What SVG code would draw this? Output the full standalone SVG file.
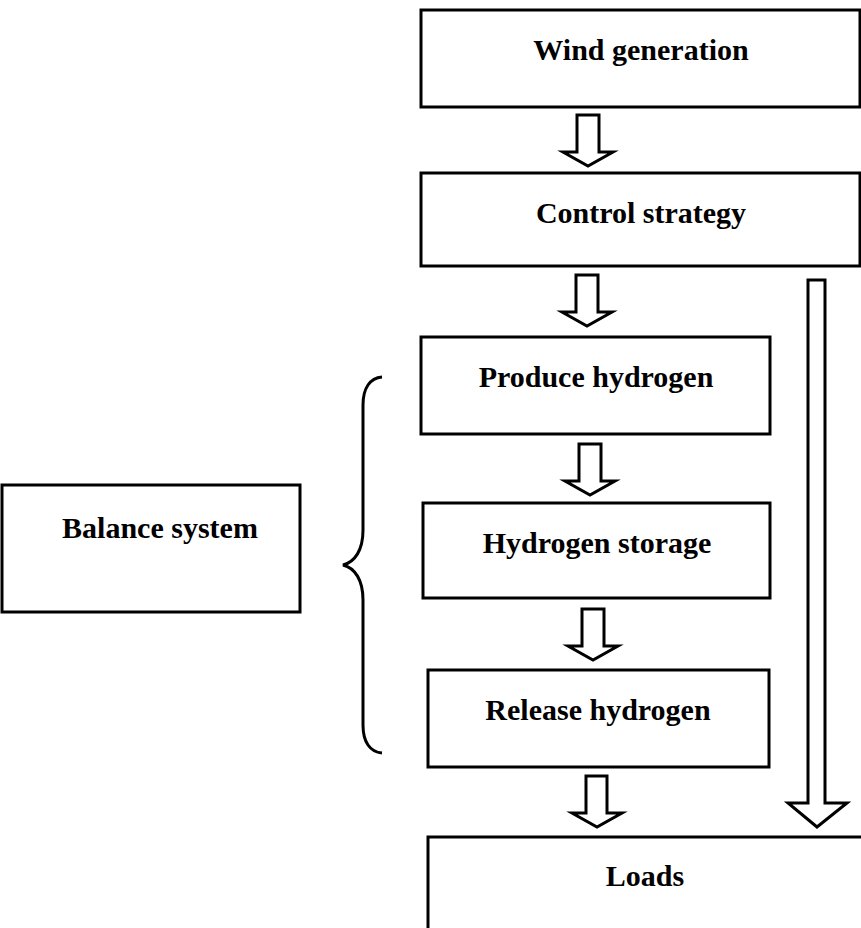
<svg xmlns="http://www.w3.org/2000/svg" width="861" height="928" viewBox="0 0 861 928">
<style>
.box{fill:#fff;stroke:#000;stroke-width:3}
.lbl{font-family:"Liberation Serif","Times New Roman",serif;font-weight:bold;font-size:30px;fill:#000;text-anchor:middle}
.arr{fill:#fff;stroke:#000;stroke-width:3;stroke-linejoin:miter}
.brace{fill:none;stroke:#000;stroke-width:3}
</style>
<rect width="861" height="928" fill="#fff"/>
<g id="wind"><rect class="box" x="421" y="10" width="439" height="97"/><text class="lbl" x="641" y="60">Wind generation</text></g>
<g id="control"><rect class="box" x="421" y="173" width="439" height="93"/><text class="lbl" x="641" y="223">Control strategy</text></g>
<g id="produce"><rect class="box" x="421" y="337" width="349" height="97"/><text class="lbl" x="596" y="387">Produce hydrogen</text></g>
<g id="storage"><rect class="box" x="423" y="503" width="347" height="95"/><text class="lbl" x="597" y="553">Hydrogen storage</text></g>
<g id="release"><rect class="box" x="428" y="670" width="341" height="97"/><text class="lbl" x="598" y="720">Release hydrogen</text></g>
<g id="loads"><rect class="box" x="428" y="837" width="440" height="100"/><text class="lbl" x="645" y="886">Loads</text></g>
<g id="balance"><rect class="box" x="2" y="485" width="298" height="127"/><text class="lbl" x="160" y="538">Balance system</text></g>
<g id="connectors">
<path class="arr" d="M577,115 H599 V152 H613 L588,166 L563,152 H577 Z"/>
<path class="arr" d="M576,275 H598 V312 H612 L587,326 L562,312 H576 Z"/>
<path class="arr" d="M579,444 H601 V481 H615 L590,495 L565,481 H579 Z"/>
<path class="arr" d="M582,609 H604 V646 H618 L593,660 L568,646 H582 Z"/>
<path class="arr" d="M586,776 H607 V813 H622 L597,827 L572,813 H586 Z"/>
<path class="arr" d="M808,280 H825 V803 H847 L817,827 L788,803 H808 Z"/>
<path class="brace" d="M382,377 C370,378 363,388 363,405 V530 C363,550 355,562 343,565 C355,568 363,580 363,600 V725 C363,742 370,752 382,753"/>
</g>
</svg>
